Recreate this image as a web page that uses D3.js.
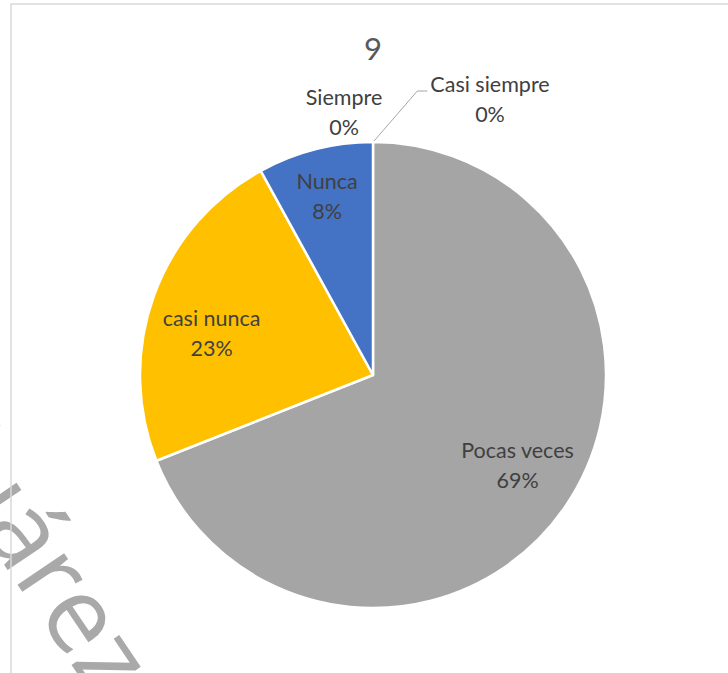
<!DOCTYPE html>
<html>
<head>
<meta charset="utf-8">
<script src="https://cdn.jsdelivr.net/npm/d3@7"></script>
<style>
  html, body { margin: 0; padding: 0; background: #ffffff; }
  svg { display: block; }
</style>
</head>
<body>
<svg id="chart" width="728" height="673"></svg>
<script>
// Survey answers for question 9 (share of responses, %)
const categories = ["Siempre", "Casi siempre", "Pocas veces", "casi nunca", "Nunca"];
const values = [0, 0, 69, 23, 8];
const colors = ["#4472c4", "#ed7d31", "#a5a5a5", "#ffc000", "#4472c4"];
const title = "9";
const watermark = "Juárez";

const W = 728, H = 673;
const cx = 373, cy = 375, R = 233;
const font = "Lato, 'Noto Sans', sans-serif";

const svg = d3.select("#chart");

// diagonal watermark text behind the chart
svg.append("text")
  .attr("transform", "translate(-72,452) rotate(56)")
  .attr("text-anchor", "start")
  .attr("font-family", "'Open Sans', sans-serif")
  .attr("font-size", 105)
  .attr("fill", "#a9a9a9")
  .text(watermark);

// chart-area frame (only the top and left edges fall inside the page)
svg.append("rect")
  .attr("x", 11).attr("y", 4)
  .attr("width", W + 20).attr("height", H + 20)
  .attr("fill", "none")
  .attr("stroke", "#d9d9d9")
  .attr("stroke-width", 1.5);

// title
svg.append("text")
  .attr("x", cx).attr("y", 60)
  .attr("text-anchor", "middle")
  .attr("font-family", font)
  .attr("font-size", 31)
  .attr("fill", "#595959")
  .text(title);

const data = categories.map((c, i) => ({ cat: c, value: values[i], color: colors[i] }));

const pie = d3.pie().value(d => d.value).sort(null).startAngle(0).endAngle(2 * Math.PI);
const arcs = pie(data);
const arc = d3.arc().innerRadius(0).outerRadius(R);

const g = svg.append("g").attr("transform", `translate(${cx},${cy})`);

g.selectAll("path.slice")
  .data(arcs.filter(a => a.value > 0))
  .join("path")
  .attr("class", "slice")
  .attr("d", arc)
  .attr("fill", d => d.data.color)
  .attr("stroke", "#ffffff")
  .attr("stroke-width", 2.5)
  .attr("stroke-linejoin", "round");

// label placement: inside labels sit on a ring, zero-value labels go above the pie
const labelArc = d3.arc().innerRadius(R * 0.75).outerRadius(R * 0.75);
const insideNudge = {
  "Pocas veces": [0, -7],
  "casi nunca": [3, 18],
  "Nunca": [-2.5, -9]
};
const outsideLabels = {
  "Siempre": { dx: -29, dy: -262, leader: false },
  "Casi siempre": { dx: 117, dy: -275, leader: true }
};

const fontSize = 21.5;
const total = d3.sum(values);

arcs.forEach(a => {
  const pct = Math.round(a.value / total * 100) + "%";
  let x, y;
  if (a.value > 0) {
    const c = labelArc.centroid(a);
    const n = insideNudge[a.data.cat] || [0, 0];
    x = c[0] + n[0];
    y = c[1] + n[1];
  } else {
    const o = outsideLabels[a.data.cat];
    x = o.dx;
    y = o.dy;
  }
  const t = g.append("text")
    .attr("text-anchor", "middle")
    .attr("font-family", font)
    .attr("font-size", fontSize)
    .attr("fill", "#404040");
  t.append("tspan").attr("x", x).attr("y", y - 8).text(a.data.cat);
  t.append("tspan").attr("x", x).attr("y", y + 22).text(pct);

  if (a.value === 0 && outsideLabels[a.data.cat].leader) {
    // leader from the slice's edge to the label's left side
    const textW = t.select("tspan").node().getComputedTextLength();
    const p0 = [Math.sin(a.startAngle) * R + 1, -Math.cos(a.startAngle) * R - 1];
    const elbowX = x - textW / 2 - 13;
    const elbowY = y - 9;
    g.append("polyline")
      .attr("points", [p0, [elbowX, elbowY], [elbowX + 10, elbowY]].map(p => p.join(",")).join(" "))
      .attr("fill", "none")
      .attr("stroke", "#a6a6a6")
      .attr("stroke-width", 1);
  }
});
</script>
</body>
</html>
